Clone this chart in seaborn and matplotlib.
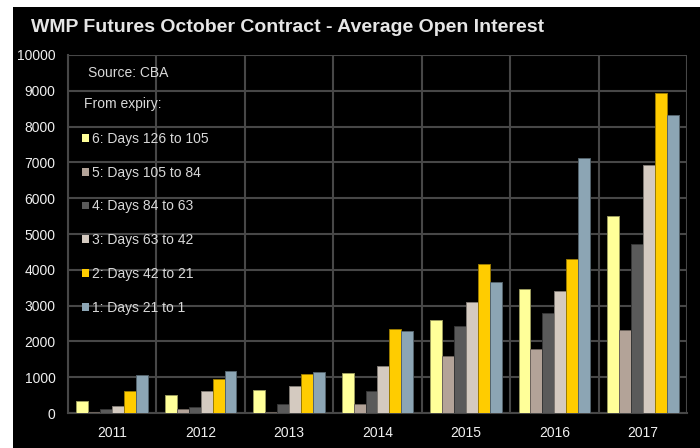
import matplotlib
matplotlib.use("Agg")
import matplotlib.pyplot as plt
from matplotlib.patches import Rectangle, Patch
from matplotlib.ticker import MultipleLocator, FixedLocator
from matplotlib.colors import to_rgb
import seaborn as sns
import pandas as pd

# Average open interest per contract year, by window before expiry
years = ["2011", "2012", "2013", "2014", "2015", "2016", "2017"]
series_labels = [
    "6: Days 126 to 105",
    "5: Days 105 to 84",
    "4: Days 84 to 63",
    "3: Days 63 to 42",
    "2: Days 42 to 21",
    "1: Days 21 to 1",
]
days_126_105 = [335, 500, 640, 1125, 2605, 3455, 5500]
days_105_84 = [30, 110, 30, 245, 1580, 1795, 2320]
days_84_63 = [110, 175, 260, 625, 2440, 2790, 4720]
days_63_42 = [205, 610, 760, 1325, 3110, 3400, 6925]
days_42_21 = [620, 960, 1090, 2340, 4150, 4290, 8950]
days_21_1 = [1060, 1160, 1150, 2300, 3665, 7120, 8330]
colors = ["#FFFF99", "#B3A398", "#5A5A5A", "#D4CAC0", "#FFCC00", "#8CA5B4"]

all_series = [days_126_105, days_105_84, days_84_63, days_63_42, days_42_21, days_21_1]
rows = []
for label, vals in zip(series_labels, all_series):
    for yr, v in zip(years, vals):
        rows.append({"year": yr, "window": label, "value": v})
df = pd.DataFrame(rows)

sns.set_theme(style="dark")
plt.rcParams["font.family"] = ["Liberation Sans", "DejaVu Sans"]

fig = plt.figure(figsize=(7.0, 4.48), dpi=100, facecolor="white")
W, H = 700, 448
# black panel behind everything, leaving a thin white margin on top and left
panel = Rectangle((13 / W, 0), (W - 13) / W, (H - 7) / H,
                  transform=fig.transFigure, facecolor="black",
                  edgecolor="none", zorder=-10)
fig.add_artist(panel)

ax = fig.add_axes([68 / W, 1 - 413 / H, (687 - 68) / W, (413 - 55) / H])
ax.set_facecolor("black")

sns.barplot(data=df, x="year", y="value", hue="window", order=years,
            hue_order=series_labels, palette=colors, width=0.81,
            saturation=1, linewidth=0.7, ax=ax, legend=False, zorder=3)

# thin darker outline around each bar
for bar in ax.patches:
    r, g, b = to_rgb(bar.get_facecolor())
    bar.set_edgecolor((r * 0.6, g * 0.6, b * 0.6))

grid_col = "#474747"
ax.set_ylim(0, 10000)
ax.set_xlim(-0.5, len(years) - 0.5)
ax.yaxis.set_major_locator(MultipleLocator(1000))
ax.xaxis.set_minor_locator(FixedLocator([i - 0.5 for i in range(len(years) + 1)]))
ax.grid(True, axis="y", which="major", color=grid_col, linewidth=1.5, zorder=1)
ax.grid(True, axis="x", which="minor", color=grid_col, linewidth=1.5, zorder=1)
ax.grid(False, axis="x", which="major")
ax.set_axisbelow(True)
for side in ["left", "bottom"]:
    ax.spines[side].set_visible(True)
    ax.spines[side].set_color(grid_col)
    ax.spines[side].set_linewidth(1.5)
for side in ["top", "right"]:
    ax.spines[side].set_visible(False)

ax.tick_params(axis="both", which="both", length=0, colors="#f0f0f0", labelsize=10)
ax.tick_params(axis="y", pad=9)
ax.tick_params(axis="x", pad=9)
ax.set_xlabel("")
ax.set_ylabel("")

fig.text(31 / W, 1 - 27 / H, "WMP Futures October Contract - Average Open Interest",
         color="#e6e6e6", fontsize=14, fontweight="bold", va="center", ha="left")

fig.text(88 / W, 1 - 73 / H, "Source: CBA", color="#d9d9d9", fontsize=10,
         va="center", ha="left")
fig.text(84 / W, 1 - 104 / H, "From expiry:", color="#d9d9d9", fontsize=10,
         va="center", ha="left")

handles = [Patch(facecolor=c, edgecolor="none") for c in colors]
leg = fig.legend(handles, series_labels, loc="upper left",
                 bbox_to_anchor=(82 / W, 1 - 132 / H), frameon=False,
                 fontsize=10, labelcolor="#d9d9d9", handlelength=0.5,
                 handleheight=0.5, handletextpad=0.25, labelspacing=1.42,
                 borderpad=0, borderaxespad=0)

fig.savefig("out.png", dpi=100, facecolor=fig.get_facecolor())
